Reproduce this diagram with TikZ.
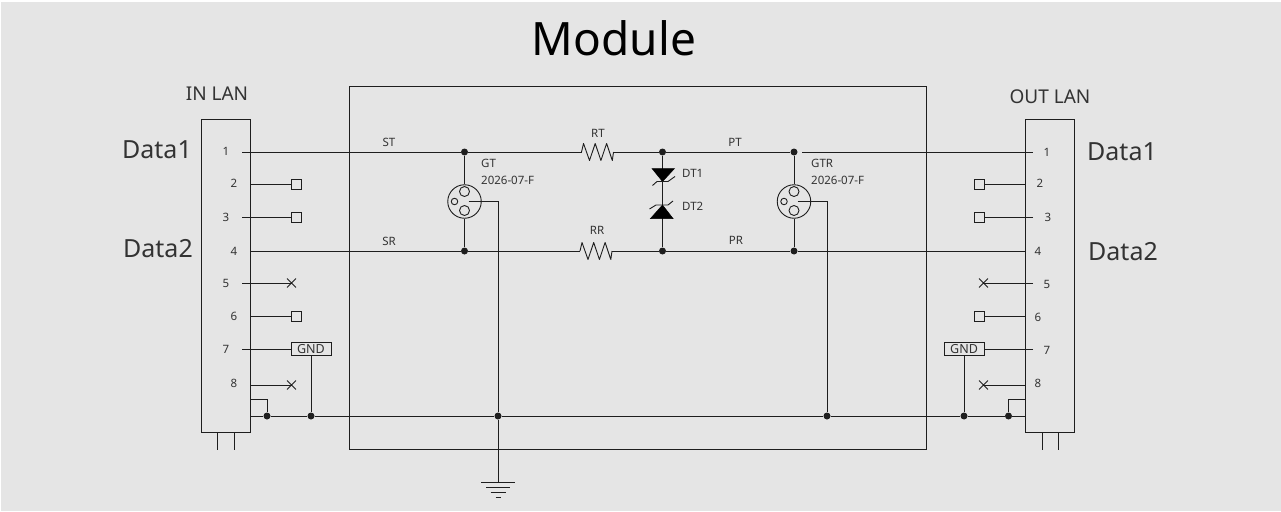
\documentclass[tikz,border=0pt]{standalone}
\usepackage{fontspec}
\setmainfont{Noto Sans}
\usepackage{tikz}
\usetikzlibrary{shapes.misc}
\definecolor{panel}{HTML}{E5E5E5}
\definecolor{wire}{HTML}{1E1E1E}
\definecolor{ink}{HTML}{333333}
\tikzstyle{wirestyle} = [draw=wire, line width=0.9pt]
\tikzstyle{dot} = [circle, minimum size=7pt, fill=wire, inner sep=0pt]
\tikzstyle{opensq} = [rectangle, draw=wire, line width=0.9pt, minimum size=10pt, inner sep=0pt]
\tikzstyle{nc} = [cross out, draw=wire, line width=0.9pt, minimum size=8pt, inner sep=0pt]
\tikzstyle{gndbox} = [rectangle, draw=wire, line width=0.9pt, minimum width=40pt, minimum height=13.5pt, inner sep=0pt, font=\fontsize{12.5}{13}\selectfont, text=ink]
\tikzstyle{tiny} = [inner sep=0pt, font=\fontsize{11.5}{13}\selectfont, text=ink]
\tikzstyle{head} = [inner sep=0pt, font=\fontsize{19}{22}\selectfont, text=ink]
\tikzstyle{data} = [inner sep=0pt, font=\fontsize{25}{28}\selectfont, text=ink]
\tikzstyle{diode} = [fill=black, draw=black, line width=0.5pt]

\begin{document}
\begin{tikzpicture}[x=1pt, y=-1pt]
\useasboundingbox (0,0) rectangle (1281,511);
\fill[panel] (1,2) rectangle (1281,511);

\node[inner sep=0pt, font=\fontsize{46}{50}\selectfont] (title) at (614,38) {Module};
\node[rectangle, wirestyle, minimum width=577pt, minimum height=363pt, inner sep=0pt] (module) at (637.5,267.5) {};

% left connector
\node[rectangle, wirestyle, minimum width=49pt, minimum height=313pt, inner sep=0pt] (inlan) at (225.5,275.5) {};
\node[head] (inlabel) at (217,94) {IN LAN};
\node[data] (ind1) at (157,150) {Data1};
\node[data] (ind2) at (158,249) {Data2};
\coordinate (inleg1a) at (217,432);
\coordinate (inleg1b) at (217,450);
\coordinate (inleg2a) at (234,432);
\coordinate (inleg2b) at (234,450);
\draw[wirestyle] (inleg1a) -- (inleg1b);
\draw[wirestyle] (inleg2a) -- (inleg2b);
\node[tiny] (inn1) at (226,151) {1};
\node[tiny] (inn2) at (234,183) {2};
\node[tiny] (inn3) at (226,217) {3};
\node[tiny] (inn4) at (234,251) {4};
\node[tiny] (inn5) at (226,283) {5};
\node[tiny] (inn6) at (234,316) {6};
\node[tiny] (inn7) at (226,349) {7};
\node[tiny] (inn8) at (234,383) {8};
\coordinate (inp1) at (242,152);
\coordinate (inp2) at (250,184);
\coordinate (inp3) at (242,217);
\coordinate (inp4) at (250,251);
\coordinate (inp5) at (242,283);
\coordinate (inp6) at (250,316);
\coordinate (inp7) at (242,349);
\coordinate (inp8) at (250,385);
\coordinate (inp9) at (250,399);
\coordinate (inbus) at (250,416);
\node[opensq] (insq2) at (296,184) {};
\node[opensq] (insq3) at (296,217) {};
\node[opensq] (insq6) at (296,316) {};
\node[nc] (inx5) at (291.5,283) {};
\node[nc] (inx8) at (291.5,385) {};
\node[gndbox] (ingnd) at (311,349) {GND};
\draw[wirestyle] (inp2) -- (insq2);
\draw[wirestyle] (inp3) -- (insq3);
\draw[wirestyle] (inp6) -- (insq6);
\draw[wirestyle] (inp5) -- (inx5.center);
\draw[wirestyle] (inp8) -- (inx8.center);
\draw[wirestyle] (inp7) -- (ingnd);

% right connector
\node[rectangle, wirestyle, minimum width=49pt, minimum height=313pt, inner sep=0pt] (outlan) at (1049.5,275.5) {};
\node[head] (outlabel) at (1050,97) {OUT LAN};
\node[data] (outd1) at (1122,152) {Data1};
\node[data] (outd2) at (1123,252) {Data2};
\coordinate (outleg1a) at (1042,432);
\coordinate (outleg1b) at (1042,450);
\coordinate (outleg2a) at (1058,432);
\coordinate (outleg2b) at (1058,450);
\draw[wirestyle] (outleg1a) -- (outleg1b);
\draw[wirestyle] (outleg2a) -- (outleg2b);
\node[tiny] (outn1) at (1047,152) {1};
\node[tiny] (outn2) at (1040,183) {2};
\node[tiny] (outn3) at (1048,217) {3};
\node[tiny] (outn4) at (1038,251) {4};
\node[tiny] (outn5) at (1047,284) {5};
\node[tiny] (outn6) at (1038,317) {6};
\node[tiny] (outn7) at (1047,350) {7};
\node[tiny] (outn8) at (1038,383) {8};
\coordinate (outp1) at (1033,152);
\coordinate (outp2) at (1025,184);
\coordinate (outp3) at (1033,217);
\coordinate (outp4) at (1025,251);
\coordinate (outp5) at (1033,283);
\coordinate (outp6) at (1025,316);
\coordinate (outp7) at (1033,349);
\coordinate (outp8) at (1025,385);
\coordinate (outp9) at (1025,399);
\coordinate (outbus) at (1025,416);
\node[opensq] (outsq2) at (979,184) {};
\node[opensq] (outsq3) at (979,217) {};
\node[opensq] (outsq6) at (979,316) {};
\node[nc] (outx5) at (983.5,283) {};
\node[nc] (outx8) at (983.5,385) {};
\node[gndbox] (outgnd) at (964,349) {GND};
\draw[wirestyle] (outp2) -- (outsq2);
\draw[wirestyle] (outp3) -- (outsq3);
\draw[wirestyle] (outp6) -- (outsq6);
\draw[wirestyle] (outp5) -- (outx5.center);
\draw[wirestyle] (outp8) -- (outx8.center);
\draw[wirestyle] (outp7) -- (outgnd);

% junctions
\node[dot] (jgt1) at (464.5,152) {};
\node[dot] (jgt2) at (464.5,251) {};
\node[dot] (jdt1) at (662.5,152) {};
\node[dot] (jdt2) at (662.5,251) {};
\node[dot] (jgtr1) at (794,152) {};
\node[dot] (jgtr2) at (794,251) {};
\node[dot] (jb1) at (267,416) {};
\node[dot] (jb2) at (311,416) {};
\node[dot] (jb3) at (498,416) {};
\node[dot] (jb4) at (827,416) {};
\node[dot] (jb5) at (964,416) {};
\node[dot] (jb6) at (1008.5,416) {};

% resistors
\coordinate (rta) at (581.5,152);
\coordinate (rtb) at (613.5,152);
\coordinate (rra) at (580,251);
\coordinate (rrb) at (612,251);
\draw[wirestyle, line join=round] (rta) -- ++(2,-8.5) -- ++(6,17) -- ++(5.7,-17) -- ++(5.7,17) -- ++(5.7,-17) -- ++(5.7,17) -- (rtb);
\draw[wirestyle, line join=round] (rra) -- ++(2,-8.5) -- ++(6,17) -- ++(5.7,-17) -- ++(5.7,17) -- ++(5.7,-17) -- ++(5.7,17) -- (rrb);

% signal lines
\coordinate (gapr) at (802,152);
\draw[wirestyle] (inp1) -- (jgt1) -- (rta);
\draw[wirestyle] (rtb) -- (jdt1) -- (jgtr1);
\draw[wirestyle] (gapr) -- (outp1);
\draw[wirestyle] (inp4) -- (jgt2) -- (rra);
\draw[wirestyle] (rrb) -- (jdt2) -- (jgtr2) -- (outp4);
\draw[wirestyle] (inbus) -- (jb1) -- (jb2) -- (jb3) -- (jb4) -- (jb5) -- (jb6) -- (outbus);
\draw[wirestyle] (ingnd) -- (jb2);
\draw[wirestyle] (outgnd) -- (jb5);
\draw[wirestyle] (inp9) -| (jb1);
\draw[wirestyle] (outp9) -| (jb6);

% gas tubes
\node[circle, wirestyle, minimum size=33.5pt, inner sep=0pt] (gt) at (464.5,201.5) {};
\node[circle, wirestyle, minimum size=10pt, inner sep=0pt] (gta) at (464.5,191.5) {};
\node[circle, wirestyle, minimum size=10pt, inner sep=0pt] (gtb) at (464.5,210.5) {};
\node[circle, wirestyle, minimum size=6.5pt, inner sep=0pt] (gtc) at (454.5,201.5) {};
\node[circle, wirestyle, minimum size=33.5pt, inner sep=0pt] (gtr) at (794,201.5) {};
\node[circle, wirestyle, minimum size=10pt, inner sep=0pt] (gtra) at (794,191.5) {};
\node[circle, wirestyle, minimum size=10pt, inner sep=0pt] (gtrb) at (794,210.5) {};
\node[circle, wirestyle, minimum size=6.5pt, inner sep=0pt] (gtrc) at (784,201.5) {};
\coordinate (gtp) at (468.5,201.5);
\coordinate (gtrp) at (797.5,201.5);
\coordinate (gndtop) at (498,482);
\draw[wirestyle] (jgt1) -- (gt);
\draw[wirestyle] (gt) -- (jgt2);
\draw[wirestyle] (jgtr1) -- (gtr);
\draw[wirestyle] (gtr) -- (jgtr2);
\draw[wirestyle] (gtp) -| (jb3);
\draw[wirestyle] (gtrp) -| (jb4);
\draw[wirestyle] (jb3) -- (gndtop);

% ground symbol
\coordinate (g1a) at (481,482);
\coordinate (g1b) at (514.5,482);
\coordinate (g2a) at (486,487);
\coordinate (g2b) at (510,487);
\coordinate (g3a) at (490.5,492);
\coordinate (g3b) at (505.5,492);
\coordinate (g4a) at (495.5,497);
\coordinate (g4b) at (500.5,497);
\draw[wirestyle] (g1a) -- (g1b);
\draw[wirestyle] (g2a) -- (g2b);
\draw[wirestyle] (g3a) -- (g3b);
\draw[wirestyle] (g4a) -- (g4b);

% tvs diodes
\draw[wirestyle] (jdt1) -- (jdt2);
\draw[diode] (652,168.5) -- (674.5,168.5) -- (662.5,181.5) -- cycle;
\draw[wirestyle] (652.5,185.5) -- (657,181.5) -- (668,181.5) -- (675,176.5);
\draw[diode] (662.5,205) -- (673,218.5) -- (650.5,218.5) -- cycle;
\draw[wirestyle] (649.5,209) -- (656,205) -- (668,205) -- (673,201);

% labels
\node[tiny] (st) at (389,142) {ST};
\node[tiny] (sr) at (389,241) {SR};
\node[tiny] (rt) at (598,133) {RT};
\node[tiny] (rr) at (597,230) {RR};
\node[tiny] (pt) at (735,142) {PT};
\node[tiny] (pr) at (736,240) {PR};
\node[tiny, anchor=west] (gtl) at (481,163) {GT};
\node[tiny, anchor=west] (gtn) at (481,180) {2026-07-F};
\node[tiny, anchor=west] (gtrl) at (811,163) {GTR};
\node[tiny, anchor=west] (gtrn) at (811,180) {2026-07-F};
\node[tiny, anchor=west] (dt1) at (682,173) {DT1};
\node[tiny, anchor=west] (dt2) at (682,206) {DT2};
\end{tikzpicture}
\end{document}
